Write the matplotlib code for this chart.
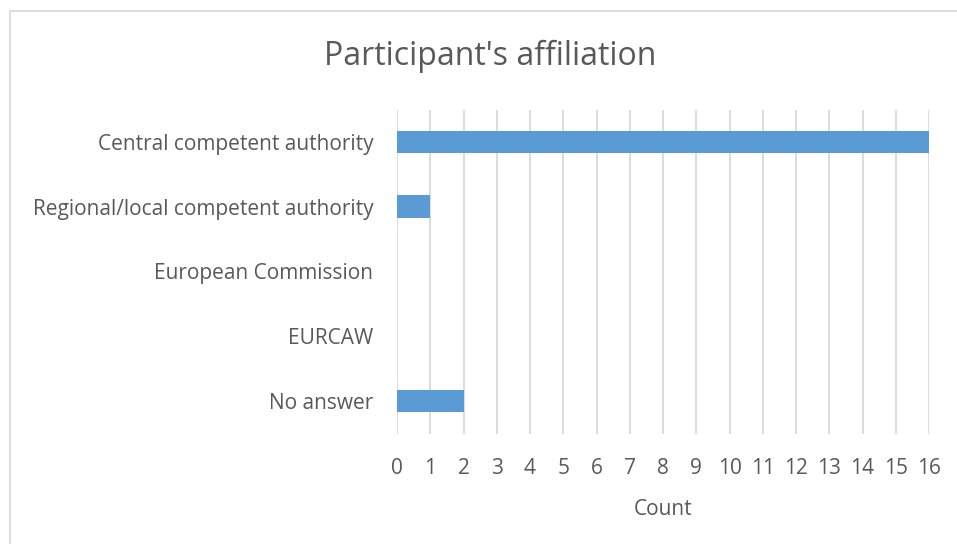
import matplotlib.pyplot as plt
from matplotlib.patches import Rectangle

categories = ['Central competent authority', 'Regional/local competent authority',
              'European Commission', 'EURCAW', 'No answer']
counts = [16, 1, 0, 0, 2]
x_ticks = list(range(0, 17))

plt.rcParams['font.family'] = ['Open Sans', 'DejaVu Sans']

fig = plt.figure(figsize=(9.57, 5.44), dpi=100)

# Chart area border (cut off at right and bottom)
fig.patches.append(Rectangle((10 / 957, -0.05), 1.0, 1 - 11 / 544 + 0.05,
                             transform=fig.transFigure, fill=False,
                             edgecolor='#d9d9d9', linewidth=1.3))

ax = fig.add_axes([397 / 957, 110.5 / 544, 532 / 957, 324 / 544])
y = list(range(len(categories)))
ax.barh(y, counts, height=0.35, color='#5b9bd5', zorder=3)
ax.set_ylim(len(categories) - 0.5, -0.5)
ax.set_xlim(0, 16)
ax.set_yticks(y)
ax.set_yticklabels(categories)
ax.set_xticks(x_ticks)

ax.grid(axis='x', color='#d9d9d9', linewidth=1.3, zorder=0)
for s in ax.spines.values():
    s.set_visible(False)
ax.tick_params(length=0, colors='#595959', labelsize=15)
ax.tick_params(axis='x', pad=18)
ax.tick_params(axis='y', pad=17)

ax.set_xlabel('Count', color='#595959', fontsize=15, labelpad=14)
fig.text(490 / 957, 1 - 56 / 544, "Participant's affiliation", ha='center',
         va='center', fontsize=23, color='#595959')

plt.savefig('out.png', dpi=100)
